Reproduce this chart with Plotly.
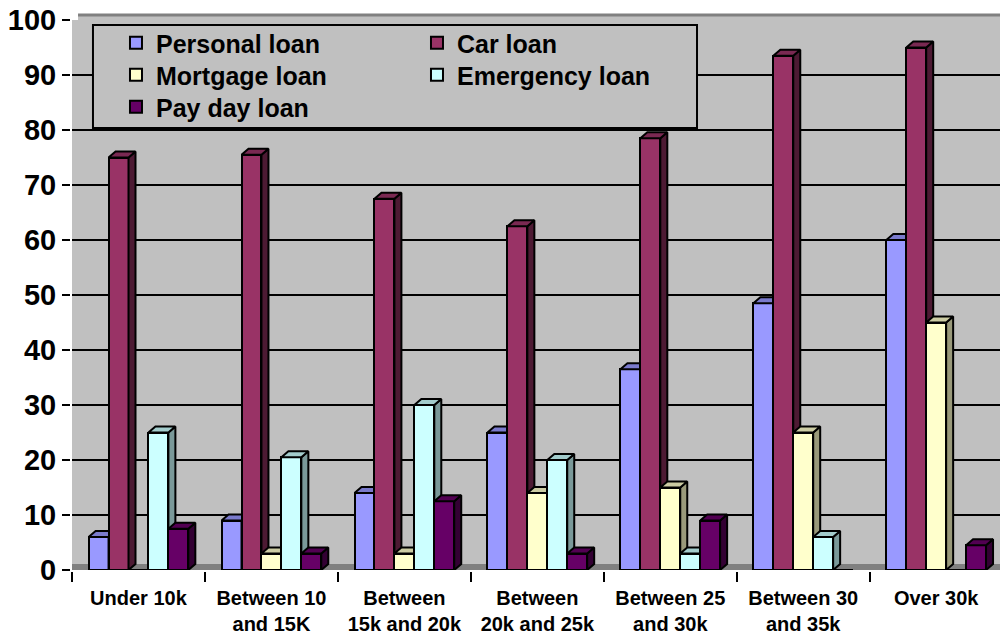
import plotly.graph_objects as go

categories = ["Under 10k", "Between 10<br>and 15K", "Between<br>15k and 20k", "Between<br>20k and 25k",
              "Between 25<br>and 30k", "Between 30<br>and 35k", "Over 30k"]
series_names = ["Personal loan", "Car loan", "Mortgage loan", "Emergency loan", "Pay day loan"]
personal = [6, 9, 14, 25, 36.5, 48.5, 60]
car = [75, 75.5, 67.5, 62.5, 78.5, 93.5, 95]
mortgage = [0, 3, 3, 14, 15, 25, 45]
emergency = [25, 20.5, 30, 20, 3, 6, 0]
payday = [7.5, 3, 12.5, 3, 9, 0, 4.5]
y_ticks = [0, 10, 20, 30, 40, 50, 60, 70, 80, 90, 100]

all_values = [personal, car, mortgage, emergency, payday]
front_colors = ["#9999FF", "#993366", "#FFFFCC", "#CCFFFF", "#660066"]
top_colors = ["#7A7ACC", "#7A2952", "#CCCCA3", "#A3CCCC", "#520052"]
side_colors = ["#5C5C99", "#4D1A33", "#99997A", "#7A9999", "#330033"]
legend_of = ["legend", "legend", "legend2", "legend2", "legend3"]

BAR_W = 0.15
OFFSETS = [-0.3, -0.15, 0.0, 0.15, 0.3]
DX = 7 / 133.0   # depth in category units
DY = 6 / 5.5     # depth in value units

fig = go.Figure()
xs_idx = list(range(len(categories)))

for s, (name, vals) in enumerate(zip(series_names, all_values)):
    xpos = [i + OFFSETS[s] for i in xs_idx]
    sx, sy, tx, ty = [], [], [], []
    for xc, v in zip(xpos, vals):
        if v <= 0:
            continue
        L, R = xc - BAR_W / 2, xc + BAR_W / 2
        sx += [R, R + DX, R + DX, R, R, None]
        sy += [0, DY, v + DY, v, 0, None]
        tx += [L, L + DX, R + DX, R, L, None]
        ty += [v, v + DY, v + DY, v, v, None]
    fig.add_trace(go.Scatter(x=sx, y=sy, mode="lines", fill="toself", fillcolor=side_colors[s],
                             line=dict(color="black", width=2), showlegend=False, hoverinfo="skip",
                             zorder=s))
    fig.add_trace(go.Scatter(x=tx, y=ty, mode="lines", fill="toself", fillcolor=top_colors[s],
                             line=dict(color="black", width=2), showlegend=False, hoverinfo="skip",
                             zorder=s))
    fig.add_trace(go.Bar(x=xpos, y=vals, width=BAR_W, name=name,
                         marker=dict(color=front_colors[s], line=dict(color="black", width=2)),
                         legend=legend_of[s], zorder=s))

font_family = "Arial, Liberation Sans, sans-serif"
legend_font = dict(size=25, weight="bold", family=font_family)


def legend_row(ypaper):
    return dict(x=0.0474, y=ypaper, xanchor="left", yanchor="top", orientation="h",
                bgcolor="rgba(0,0,0,0)", borderwidth=0, font=legend_font,
                entrywidth=256, entrywidthmode="pixels", itemclick=False, traceorder="normal")


fig.update_layout(
    width=1000, height=637,
    margin=dict(l=72, r=0, t=20, b=67),
    paper_bgcolor="white",
    plot_bgcolor="#C0C0C0",
    barmode="overlay",
    bargap=0,
    font=dict(family=font_family, color="black"),
    xaxis=dict(
        range=[-0.5, 6.48], tickmode="array", tickvals=xs_idx, ticktext=categories,
        ticks="outside", ticklen=0, tickwidth=2, tickcolor="black", ticklabelstandoff=9,
        tickfont=dict(size=20, weight="bold", family=font_family),
        showline=True, linecolor="black", linewidth=2, showgrid=False, zeroline=False,
        minor=dict(tickmode="array", tickvals=[i - 0.5 for i in range(8)], ticks="outside",
                   ticklen=10, tickwidth=2, tickcolor="black", showgrid=False),
    ),
    yaxis=dict(
        range=[0, 100], tickmode="array", tickvals=y_ticks,
        ticks="outside", ticklen=8, tickwidth=2, tickcolor="black",
        tickfont=dict(size=29, weight="bold", family=font_family),
        showline=True, linecolor="black", linewidth=2,
        showgrid=True, gridcolor="black", gridwidth=2, zeroline=False,
    ),
    legend=legend_row(1.0),
    legend2=legend_row(0.9418),
    legend3=legend_row(0.8836),
    shapes=[
        dict(type="rect", xref="paper", yref="y", x0=0, x1=1, y0=0, y1=DY,
             fillcolor="#808080", line=dict(width=0), layer="below"),
        dict(type="rect", xref="paper", yref="paper", x0=0.0065, x1=1, y0=1, y1=1.009,
             fillcolor="#C0C0C0", line=dict(width=0), layer="below"),
        dict(type="line", xref="paper", yref="paper", x0=0.0065, x1=1, y0=1.009, y1=1.009,
             line=dict(color="#808080", width=3)),
        dict(type="rect", xref="paper", yref="paper", x0=0.0226, x1=0.6735, y0=0.8036, y1=0.9909,
             fillcolor="#C0C0C0", line=dict(color="black", width=2), layer="above"),
    ],
)

fig.write_html("out.html")
